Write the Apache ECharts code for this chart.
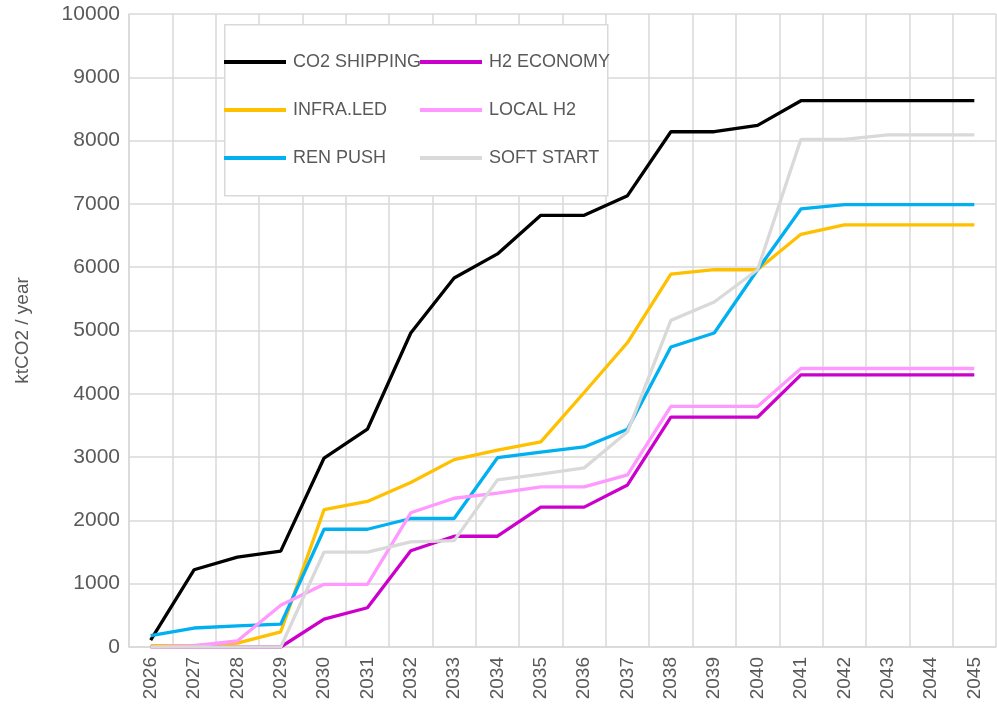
<!DOCTYPE html>
<html>
<head>
<meta charset="utf-8">
<script src="https://cdn.jsdelivr.net/npm/echarts@6/dist/echarts.min.js"></script>
<style>
  html, body { margin: 0; padding: 0; background: #fff; }
  #chart { width: 997px; height: 709px; }
</style>
</head>
<body>
<div id="chart"></div>
<script>
// years on the x axis
var years = ['2026', '2027', '2028', '2029', '2030', '2031', '2032', '2033', '2034', '2035',
             '2036', '2037', '2038', '2039', '2040', '2041', '2042', '2043', '2044', '2045'];

// ktCO2 / year per scenario
var co2Shipping = [110, 1220, 1420, 1515, 2985, 3440, 4960, 5830, 6210, 6820,
                   6820, 7130, 8140, 8140, 8240, 8630, 8630, 8630, 8630, 8630];
var infraLed    = [20, 20, 60, 240, 2170, 2300, 2600, 2960, 3110, 3240,
                   4020, 4810, 5890, 5960, 5960, 6520, 6670, 6670, 6670, 6670];
var renPush     = [180, 300, 335, 360, 1860, 1860, 2030, 2030, 2990, 3080,
                   3160, 3440, 4740, 4960, 5960, 6920, 6990, 6990, 6990, 6990];
var h2Economy   = [0, 0, 0, 0, 440, 620, 1520, 1750, 1750, 2210,
                   2210, 2560, 3630, 3630, 3630, 4300, 4300, 4300, 4300, 4300];
var localH2     = [0, 20, 95, 660, 990, 990, 2120, 2350, 2430, 2530,
                   2530, 2720, 3800, 3800, 3800, 4400, 4400, 4400, 4400, 4400];
var softStart   = [0, 0, 0, 0, 1500, 1500, 1660, 1680, 2640, 2730,
                   2830, 3400, 5160, 5450, 5960, 8020, 8020, 8090, 8090, 8090];

var yTicks = { min: 0, max: 10000, interval: 1000 };

var chart = echarts.init(document.getElementById('chart'));
var txt = '#595959';
var gridColor = '#d9d9d9';
var font = 'Liberation Sans, Arial, sans-serif';

function line(name, data, color) {
	return {
		name: name,
		type: 'line',
		data: data,
		symbol: 'none',
		lineStyle: { color: color, width: 3.3 },
		itemStyle: { color: color },
		emphasis: { disabled: true }
	};
}

var legendCommon = {
	orient: 'vertical',
	top: 52,
	padding: 0,
	icon: 'rect',
	itemWidth: 62,
	itemHeight: 4,
	itemGap: 28,
	z: 5,
	textStyle: { color: txt, fontSize: 18, lineHeight: 20, fontFamily: font, padding: [0, 0, 0, 2] }
};

chart.setOption({
	animation: false,
	grid: { left: 129, right: 1, top: 14, bottom: 62 },
	graphic: [{
		type: 'rect',
		left: 224, top: 24,
		shape: { width: 383, height: 171 },
		style: { fill: '#fff', stroke: gridColor, lineWidth: 1.5 },
		z: 3
	}],
	legend: [
		Object.assign({ left: 224, data: ['CO2 SHIPPING', 'INFRA.LED', 'REN PUSH'] }, legendCommon),
		Object.assign({ left: 420, data: ['H2 ECONOMY', 'LOCAL H2', 'SOFT START'] }, legendCommon)
	],
	xAxis: {
		type: 'category',
		data: years,
		boundaryGap: true,
		axisLine: { lineStyle: { color: gridColor, width: 1.5 } },
		axisTick: { show: false },
		axisLabel: { rotate: 90, color: txt, fontSize: 19, fontFamily: font, margin: 10, interval: 0 },
		splitLine: { show: true, interval: 0, lineStyle: { color: gridColor, width: 1.5 } }
	},
	yAxis: {
		type: 'value',
		min: yTicks.min, max: yTicks.max, interval: yTicks.interval,
		name: 'ktCO2 / year',
		nameLocation: 'middle',
		nameGap: 97,
		nameTextStyle: { color: txt, fontSize: 19, fontFamily: font },
		axisLine: { show: true, lineStyle: { color: gridColor, width: 1.5 } },
		axisTick: { show: false },
		axisLabel: { color: txt, fontSize: 21, fontFamily: font, margin: 9, formatter: function (v) { return String(v); } },
		splitLine: { lineStyle: { color: gridColor, width: 1.5 } }
	},
	series: [
		line('CO2 SHIPPING', co2Shipping, '#000000'),
		line('INFRA.LED', infraLed, '#FFC000'),
		line('REN PUSH', renPush, '#00B0F0'),
		line('H2 ECONOMY', h2Economy, '#CC00CC'),
		line('LOCAL H2', localH2, '#FF99FF'),
		line('SOFT START', softStart, '#D9D9D9')
	]
});
</script>
</body>
</html>
